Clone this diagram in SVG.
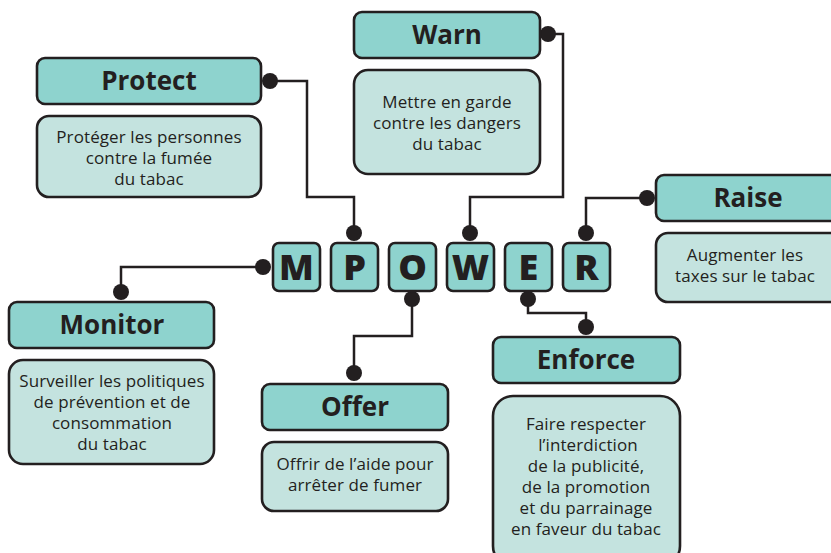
<svg xmlns="http://www.w3.org/2000/svg" width="831" height="553" viewBox="0 0 831 553">
  <style>
    .hd { fill: #8ed3ce; stroke: #231f20; stroke-width: 2.6; }
    .ds { fill: #c4e3df; stroke: #231f20; stroke-width: 2.6; }
    .lt { fill: #8ed3ce; stroke: #231f20; stroke-width: 2.6; }
    .ht { font-family: "Open Sans", Lato, sans-serif; font-weight: 700; font-size: 26px; fill: #231f20; text-anchor: middle; dominant-baseline: central; }
    .dt { font-family: "Open Sans", Lato, sans-serif; font-size: 17px; letter-spacing: 0.1px; fill: #231f20; text-anchor: middle; dominant-baseline: central; }
    .big { font-family: "Open Sans", Lato, sans-serif; font-weight: 800; font-size: 36px; fill: #231f20; text-anchor: middle; dominant-baseline: central; }
    .wire { fill: none; stroke: #231f20; stroke-width: 2.5; }
    .dot { fill: #231f20; }
  </style>
  <rect width="831" height="553" fill="#ffffff"/>

  <!-- connectors -->
  <g id="connectors">
    <polyline class="wire" points="270,81 307,81 307,197 354,197 354,233"/>
    <polyline class="wire" points="548,34 563,34 563,197 470,197 470,233"/>
    <polyline class="wire" points="647,198 586,198 586,233"/>
    <polyline class="wire" points="263,267 121,267 121,292"/>
    <polyline class="wire" points="412,299 412,336 354,336 354,373"/>
    <polyline class="wire" points="528,299 528,313 586,313 586,327"/>
    <circle class="dot" cx="270" cy="81" r="8"/>
    <circle class="dot" cx="354" cy="233" r="8"/>
    <circle class="dot" cx="548" cy="34" r="8"/>
    <circle class="dot" cx="470" cy="233" r="8"/>
    <circle class="dot" cx="647" cy="198" r="8"/>
    <circle class="dot" cx="586" cy="233" r="8"/>
    <circle class="dot" cx="263" cy="267" r="8"/>
    <circle class="dot" cx="121" cy="292" r="8"/>
    <circle class="dot" cx="412" cy="299" r="8"/>
    <circle class="dot" cx="354" cy="373" r="8"/>
    <circle class="dot" cx="528" cy="299" r="8"/>
    <circle class="dot" cx="586" cy="327" r="8"/>
  </g>

  <!-- MPOWER letter tiles -->
  <g id="letters">
    <rect class="lt" x="273" y="243" width="47" height="48" rx="6"/>
    <text class="big" x="296.5" y="266">M</text>
    <rect class="lt" x="331" y="243" width="47" height="48" rx="6"/>
    <text class="big" x="354.5" y="266">P</text>
    <rect class="lt" x="389" y="243" width="47" height="48" rx="6"/>
    <text class="big" x="412.5" y="266">O</text>
    <rect class="lt" x="447" y="243" width="47" height="48" rx="6"/>
    <text class="big" x="470.5" y="266">W</text>
    <rect class="lt" x="505" y="243" width="47" height="48" rx="6"/>
    <text class="big" x="528.5" y="266">E</text>
    <rect class="lt" x="563" y="243" width="47" height="48" rx="6"/>
    <text class="big" x="586.5" y="266">R</text>
  </g>

  <g id="protect">
    <rect class="hd" x="37" y="58" width="224" height="46" rx="8"/>
    <text class="ht" x="149" y="80">Protect</text>
    <rect class="ds" x="37" y="116" width="224" height="81" rx="12"/>
    <text class="dt" x="149" y="136">Protéger les personnes</text>
    <text class="dt" x="149" y="157">contre la fumée</text>
    <text class="dt" x="149" y="178">du tabac</text>
  </g>

  <g id="warn">
    <rect class="hd" x="354" y="12" width="186" height="46" rx="8"/>
    <text class="ht" x="447" y="34">Warn</text>
    <rect class="ds" x="354" y="70" width="186" height="104" rx="14"/>
    <text class="dt" x="447" y="101">Mettre en garde</text>
    <text class="dt" x="447" y="122">contre les dangers</text>
    <text class="dt" x="447" y="143">du tabac</text>
  </g>

  <g id="raise">
    <rect class="hd" x="656" y="175" width="190" height="46" rx="8"/>
    <text class="ht" x="748" y="197">Raise</text>
    <rect class="ds" x="656" y="233" width="190" height="69" rx="12"/>
    <text class="dt" x="745" y="254">Augmenter les</text>
    <text class="dt" x="745" y="275">taxes sur le tabac</text>
  </g>

  <g id="monitor">
    <rect class="hd" x="9" y="302" width="205" height="46" rx="8"/>
    <text class="ht" x="112" y="324">Monitor</text>
    <rect class="ds" x="9" y="360" width="205" height="104" rx="14"/>
    <text class="dt" x="112" y="380">Surveiller les politiques</text>
    <text class="dt" x="112" y="401">de prévention et de</text>
    <text class="dt" x="112" y="422">consommation</text>
    <text class="dt" x="112" y="443">du tabac</text>
  </g>

  <g id="offer">
    <rect class="hd" x="262" y="384" width="186" height="46" rx="8"/>
    <text class="ht" x="355" y="406">Offer</text>
    <rect class="ds" x="262" y="442" width="186" height="69" rx="12"/>
    <text class="dt" x="355" y="463">Offrir de l’aide pour</text>
    <text class="dt" x="355" y="484">arrêter de fumer</text>
  </g>

  <g id="enforce">
    <rect class="hd" x="493" y="337" width="187" height="46" rx="8"/>
    <text class="ht" x="586" y="359">Enforce</text>
    <rect class="ds" x="493" y="396" width="187" height="170" rx="20"/>
    <text class="dt" x="586" y="423">Faire respecter</text>
    <text class="dt" x="588" y="444">l’interdiction</text>
    <text class="dt" x="586" y="465">de la publicité,</text>
    <text class="dt" x="586" y="486">de la promotion</text>
    <text class="dt" x="586" y="507">et du parrainage</text>
    <text class="dt" x="586" y="528">en faveur du tabac</text>
  </g>
</svg>
